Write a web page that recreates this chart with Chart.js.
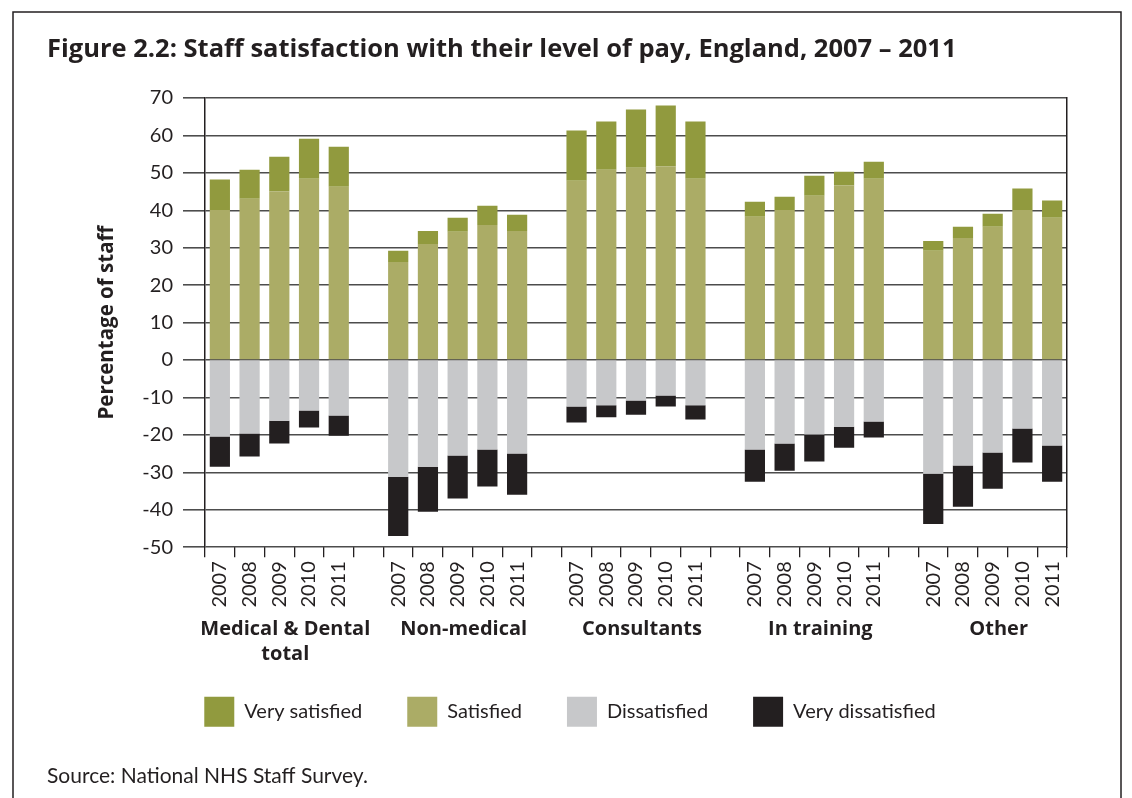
<!DOCTYPE html>
<html>
<head>
<meta charset="utf-8">
<title>Staff satisfaction with their level of pay</title>
<script src="https://cdn.jsdelivr.net/npm/chart.js@4.4.1/dist/chart.umd.min.js"></script>
<style>
  html, body { margin: 0; padding: 0; background: #ffffff; }
  #wrap { width: 1132px; height: 798px; position: relative; }
</style>
</head>
<body>
<div id="wrap"><canvas id="chart" width="1132" height="798"></canvas></div>
<script>
// Survey years shown for every staff group
const years = ['2007', '2008', '2009', '2010', '2011'];

// Staff groups (multi-line names as arrays)
const groupLabels = [
  ['Medical & Dental', 'total'],
  ['Non-medical'],
  ['Consultants'],
  ['In training'],
  ['Other']
];

// Percentage of staff, five years per group, groups in the order above
const verySatisfied = [
  8.1, 7.7, 9.3, 10.7, 10.7,
  3.0, 3.5, 3.7, 5.1, 4.3,
  13.4, 12.9, 15.5, 16.3, 15.3,
  4.0, 3.5, 5.3, 3.7, 4.6,
  2.6, 3.0, 3.5, 5.7, 4.6
];
const satisfied = [
  40.1, 43.1, 45.0, 48.4, 46.3,
  26.2, 31.0, 34.3, 36.1, 34.5,
  47.9, 50.8, 51.4, 51.7, 48.4,
  38.3, 40.1, 43.9, 46.6, 48.4,
  29.2, 32.6, 35.6, 40.1, 38.0
];
const dissatisfied = [
  -20.4, -19.6, -16.2, -13.5, -14.8,
  -31.2, -28.5, -25.5, -23.9, -25.0,
  -12.4, -12.1, -10.8, -9.5, -12.1,
  -23.9, -22.3, -19.9, -17.8, -16.4,
  -30.4, -28.2, -24.7, -18.3, -22.8
];
const veryDissatisfied = [
  -8.1, -6.2, -6.1, -4.5, -5.4,
  -15.8, -12.0, -11.5, -9.9, -11.0,
  -4.3, -3.2, -3.8, -2.9, -3.8,
  -8.6, -7.3, -7.2, -5.6, -4.3,
  -13.4, -11.0, -9.7, -9.1, -9.7
];

// Value axis range
const yMin = -50;
const yMax = 70;
const yStep = 10;

const INK = '#231f20';
const BOLD_FAMILY = '"Open Sans", Lato, sans-serif';

// Lay the groups out on one category axis, with an empty slot between groups
const slotLabels = [];
groupLabels.forEach((g, gi) => {
  years.forEach(y => slotLabels.push(y));
  if (gi < groupLabels.length - 1) slotLabels.push('');
});
function toSlots(values) {
  const out = [];
  groupLabels.forEach((g, gi) => {
    for (let i = 0; i < years.length; i++) out.push(values[gi * years.length + i]);
    if (gi < groupLabels.length - 1) out.push(null);
  });
  return out;
}
const slotsPerGroup = years.length + 1;

Chart.defaults.font.family = 'Lato, "Open Sans", sans-serif';
Chart.defaults.color = INK;

// Thin frame around the figure
const framePlugin = {
  id: 'frame',
  afterDraw(chart) {
    const ctx = chart.ctx;
    ctx.save();
    ctx.strokeStyle = INK;
    ctx.lineWidth = 1.5;
    ctx.strokeRect(13, 12, 1108, 830);
    ctx.restore();
  }
};

// Nudge the centred legend row a little to the right
const legendShiftPlugin = {
  id: 'legendShift',
  afterLayout(chart) {
    if (chart.legend) {
      chart.legend.left += 13;
      chart.legend.right += 13;
    }
  }
};

// Group names below the year labels
const groupNamePlugin = {
  id: 'groupNames',
  afterDraw(chart) {
    const { ctx, chartArea } = chart;
    const x = chart.scales.x;
    ctx.save();
    ctx.font = 'bold 20px ' + BOLD_FAMILY;
    ctx.fillStyle = INK;
    ctx.textAlign = 'center';
    ctx.textBaseline = 'middle';
    groupLabels.forEach((lines, gi) => {
      const mid = gi * slotsPerGroup + Math.floor(years.length / 2);
      const cx = x.getPixelForValue(mid) + 6;
      lines.forEach((t, li) => ctx.fillText(t, cx, chartArea.bottom + 82 + li * 25));
    });
    ctx.restore();
  }
};

new Chart(document.getElementById('chart'), {
  type: 'bar',
  data: {
    labels: slotLabels,
    datasets: [
      { label: 'Very satisfied', data: toSlots(verySatisfied), backgroundColor: '#919a3e', order: 1 },
      { label: 'Satisfied', data: toSlots(satisfied), backgroundColor: '#abac66', order: 0 },
      { label: 'Dissatisfied', data: toSlots(dissatisfied), backgroundColor: '#c7c8ca', order: 2 },
      { label: 'Very dissatisfied', data: toSlots(veryDissatisfied), backgroundColor: INK, order: 3 }
    ]
  },
  options: {
    responsive: false,
    animation: false,
    layout: { padding: { top: 34, left: 47, right: 65, bottom: 0 } },
    datasets: { bar: { categoryPercentage: 1, barPercentage: 0.68, borderWidth: 0 } },
    scales: {
      x: {
        stacked: true,
        grid: { offset: true, drawOnChartArea: false, tickLength: 10, color: INK, lineWidth: 1.3 },
        border: { display: false },
        ticks: { autoSkip: false, maxRotation: 90, minRotation: 90, padding: 4, font: { size: 20 }, color: INK },
        afterFit: s => { s.height = 104.6; }
      },
      y: {
        stacked: true,
        min: yMin,
        max: yMax,
        ticks: { stepSize: yStep, padding: 10, font: { size: 20 }, color: INK },
        grid: { color: '#4d4d4d', lineWidth: 1.6, tickLength: 22 },
        border: { color: INK, width: 1.5 },
        title: {
          display: true,
          text: 'Percentage of staff',
          font: { family: BOLD_FAMILY, size: 20.5, weight: 'bold' },
          color: INK,
          padding: { top: 48, bottom: 0 }
        },
        afterFit: s => { s.width = 158; }
      },
      y2: {
        position: 'right',
        min: yMin,
        max: yMax,
        grid: { drawOnChartArea: false, drawTicks: false },
        ticks: { display: false },
        border: { color: INK, width: 1.5 },
        afterFit: s => { s.width = 0; }
      }
    },
    plugins: {
      title: {
        display: true,
        text: 'Figure 2.2: Staff satisfaction with their level of pay, England, 2007 \u2013 2011',
        align: 'start',
        color: INK,
        font: { family: BOLD_FAMILY, size: 25.5, weight: 'bold' },
        padding: { top: 0, bottom: 33.4 }
      },
      subtitle: {
        display: true,
        position: 'bottom',
        align: 'start',
        text: 'Source: National NHS Staff Survey.',
        color: INK,
        font: { size: 21 },
        padding: { top: 27, bottom: 9 }
      },
      legend: {
        position: 'bottom',
        labels: {
          boxWidth: 30,
          boxHeight: 30,
          padding: 45,
          color: INK,
          font: { size: 20 },
          sort: (a, b) => a.datasetIndex - b.datasetIndex
        }
      },
      tooltip: { enabled: false }
    }
  },
  plugins: [framePlugin, legendShiftPlugin, groupNamePlugin]
});
</script>
</body>
</html>
